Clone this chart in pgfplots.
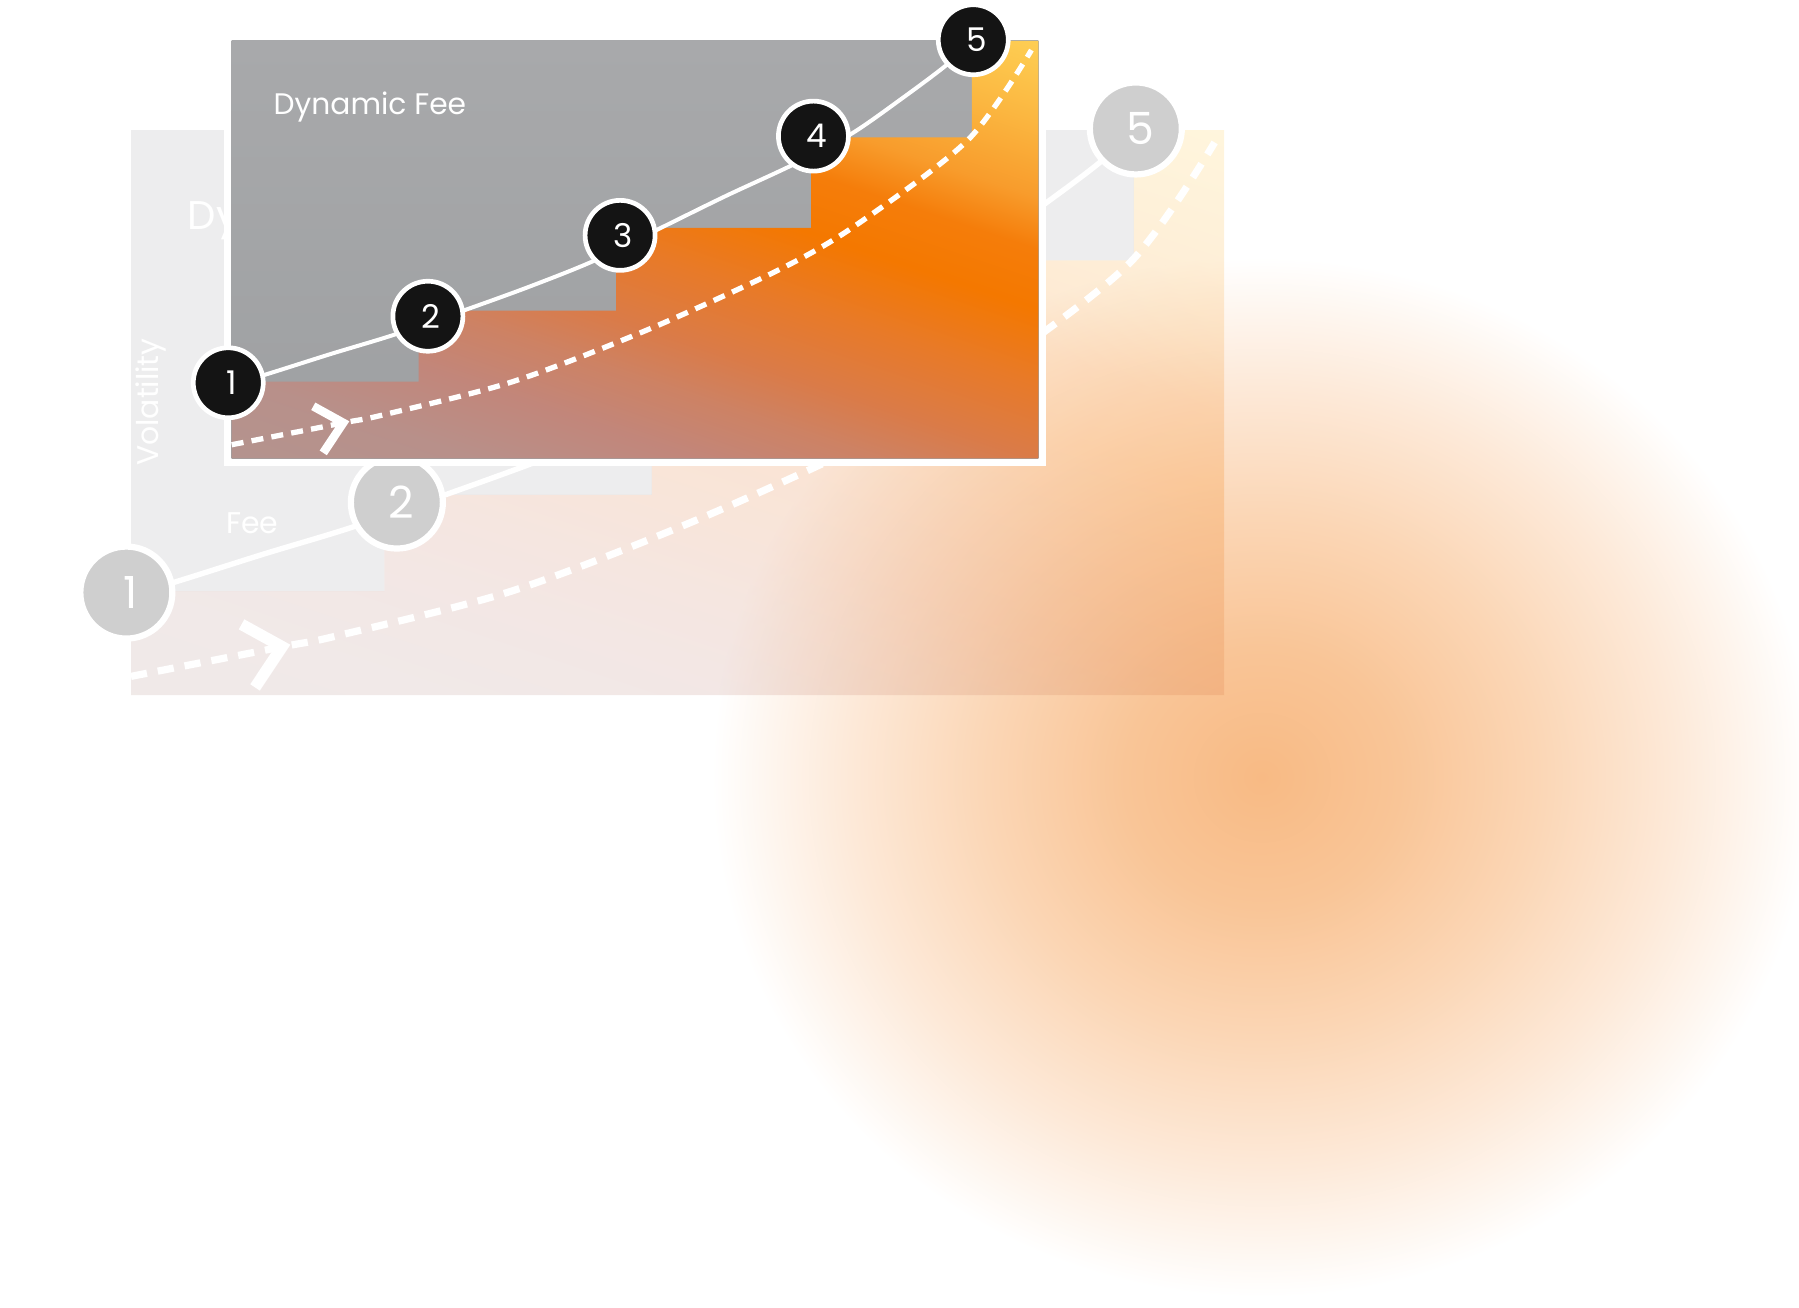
\documentclass[border=0pt]{standalone}
\usepackage{fontspec}
\setmainfont{Poppins}
\usepackage{pgfplots}
\pgfplotsset{compat=1.18}
\usepackage{pgfplotstable}

\definecolor{graytop}{HTML}{A8A9AB}
\definecolor{graybot}{HTML}{9EA0A2}
\definecolor{backgray}{HTML}{A5A6A8}
\definecolor{circfill}{HTML}{141414}
\definecolor{backcirc}{HTML}{CFCFCF}
\definecolor{s0}{HTML}{B29590}
\definecolor{s1}{HTML}{B8908A}
\definecolor{s2}{HTML}{C2867A}
\definecolor{s3}{HTML}{CD8264}
\definecolor{s4}{HTML}{DA7B48}
\definecolor{s5}{HTML}{E87A28}
\definecolor{s6}{HTML}{F47800}
\definecolor{s7}{HTML}{F57D0A}
\definecolor{s8}{HTML}{F89C2C}
\definecolor{s9}{HTML}{FBB640}
\definecolor{s10}{HTML}{FDC64C}
\definecolor{s11}{HTML}{FFD65C}
\definecolor{g0}{HTML}{F8BA84}
\definecolor{g1}{HTML}{F9C597}
\definecolor{g2}{HTML}{FBD6B5}
\definecolor{g3}{HTML}{FDE9D8}
\definecolor{g4}{HTML}{FEF6EF}

\pgfdeclarehorizontalshading{stairgrad}{100bp}{color(0bp)=(s0); color(15.44bp)=(s0); color(25.81bp)=(s1); color(32.72bp)=(s2); color(38.25bp)=(s3); color(43.09bp)=(s4); color(50bp)=(s5); color(56.91bp)=(s6); color(62.44bp)=(s7); color(67.28bp)=(s8); color(74.19bp)=(s9); color(79.03bp)=(s10); color(84.56bp)=(s11); color(100bp)=(s11)}
\pgfdeclareradialshading{glow}{\pgfpoint{0bp}{0bp}}{color(0bp)=(g0); color(6.25bp)=(g1); color(12.5bp)=(g2); color(18.75bp)=(g3); color(22.5bp)=(g4); color(25bp)=(white); color(50bp)=(white)}

% fee level per volatility step
\pgfplotstableread{
x y
0 67
163 129
335 201
505 280
645 364
703 364
}\steps

% solid curve
\pgfplotstableread{
x y
-3 64
29 73
86 91
142 108
205 130
260 150
315 172
372 200
431 229
489 256
540 283
583 313
623 343
646 365
}\solidcurve

% dashed curve
\pgfplotstableread{
x y
0 12
97 31
132 38
245 67
362 112
478 165
545 204
642 278
697 356
}\dashcurve

\pgfplotsset{panel/.style={scale only axis, hide axis, clip=false,
  xmin=0, xmax=703, ymin=0, ymax=364, anchor=south west}}

\begin{document}
\begin{tikzpicture}
\useasboundingbox (0,0) rectangle (179.9mm,130.7mm);

% ---------- back (faded) panel ----------
\begin{axis}[panel, at={(13.1mm,61.2mm)}, width=109.3mm, height=56.5mm]
\shade[shading=glow] (axis cs:727.4,-53) ellipse [x radius=55mm, y radius=52mm];
\addplot[draw=none, fill=backgray, fill opacity=0.2] coordinates {(0,67) (163,67) (163,129) (335,129) (335,201) (505,201) (505,280) (645,280) (645,364) (0,364)} -- cycle;
\addplot[const plot, draw=none, shade, shading=stairgrad, shading angle=71.57, fill opacity=0.2] table {\steps} \closedcycle;
\node[anchor=base west, text=white, inner sep=0pt, font=\fontsize{11.4}{13}\selectfont] at (axis cs:36,300) {Dynamic Fee};
\node[rotate=90, anchor=center, text=white, inner sep=0pt, font=\fontsize{8.5}{10}\selectfont] at (axis cs:12.9,188.7) {Volatility};
\node[anchor=base west, text=white, inner sep=0pt, font=\fontsize{8.5}{10}\selectfont] at (axis cs:60.8,104) {Fee};
\addplot[white, line width=0.54mm, smooth, tension=0.5] table {\solidcurve};
\addplot[white, line width=0.72mm, dash pattern=on 1.62mm off 1.11mm, smooth, tension=0.5] table {\dashcurve};
\addplot[white, line width=1.15mm, line join=miter] coordinates {(71.1,45.5) (97.2,31.1) (79.8,4.9)};
\addplot[scatter, only marks, mark=*, mark size=4.6mm,
  mark options={fill=backcirc, draw=white, line width=0.62mm},
  point meta=explicit symbolic,
  scatter/@pre marker code/.code={},
  scatter/@post marker code/.code={\node[text=white, inner sep=0pt, font=\fontsize{12.6}{14}\selectfont] at (0,0) {\pgfplotspointmeta};}]
  coordinates {(-3,66)[1] (171,124)[2] (338.5,194.5)[3] (507,281)[4] (646.3,365)[5]};
\end{axis}

% ---------- front panel ----------
\begin{axis}[panel, at={(23.17mm,84.85mm)}, width=80.66mm, height=41.76mm]
\fill[white] ([xshift=-0.75mm,yshift=-0.75mm]axis cs:0,0) rectangle ([xshift=0.75mm,yshift=0.75mm]axis cs:703,364);
\addplot[draw=none, top color=graytop, bottom color=graybot] coordinates {(0,0) (703,0) (703,364) (0,364)} -- cycle;
\addplot[const plot, draw=none, shade, shading=stairgrad, shading angle=71.57] table {\steps} \closedcycle;
\node[anchor=base west, text=white, inner sep=0pt, font=\fontsize{8.45}{10}\selectfont] at (axis cs:36,300) {Dynamic Fee};
\addplot[white, line width=0.4mm, smooth, tension=0.5] table {\solidcurve};
\addplot[white, line width=0.53mm, dash pattern=on 1.2mm off 0.82mm, smooth, tension=0.5] table {\dashcurve};
\addplot[white, line width=0.85mm, line join=miter] coordinates {(71.1,45.5) (97.2,31.1) (79.8,4.9)};
\addplot[scatter, only marks, mark=*, mark size=3.5mm,
  mark options={fill=circfill, draw=white, line width=0.47mm},
  point meta=explicit symbolic,
  scatter/@pre marker code/.code={},
  scatter/@post marker code/.code={\node[text=white, inner sep=0pt, font=\fontsize{9.3}{11}\selectfont] at (0,0) {\pgfplotspointmeta};}]
  coordinates {(-3,66)[1] (171,124)[2] (338.5,194.5)[3] (507,281)[4] (646.3,365)[5]};
\end{axis}
\end{tikzpicture}
\end{document}
